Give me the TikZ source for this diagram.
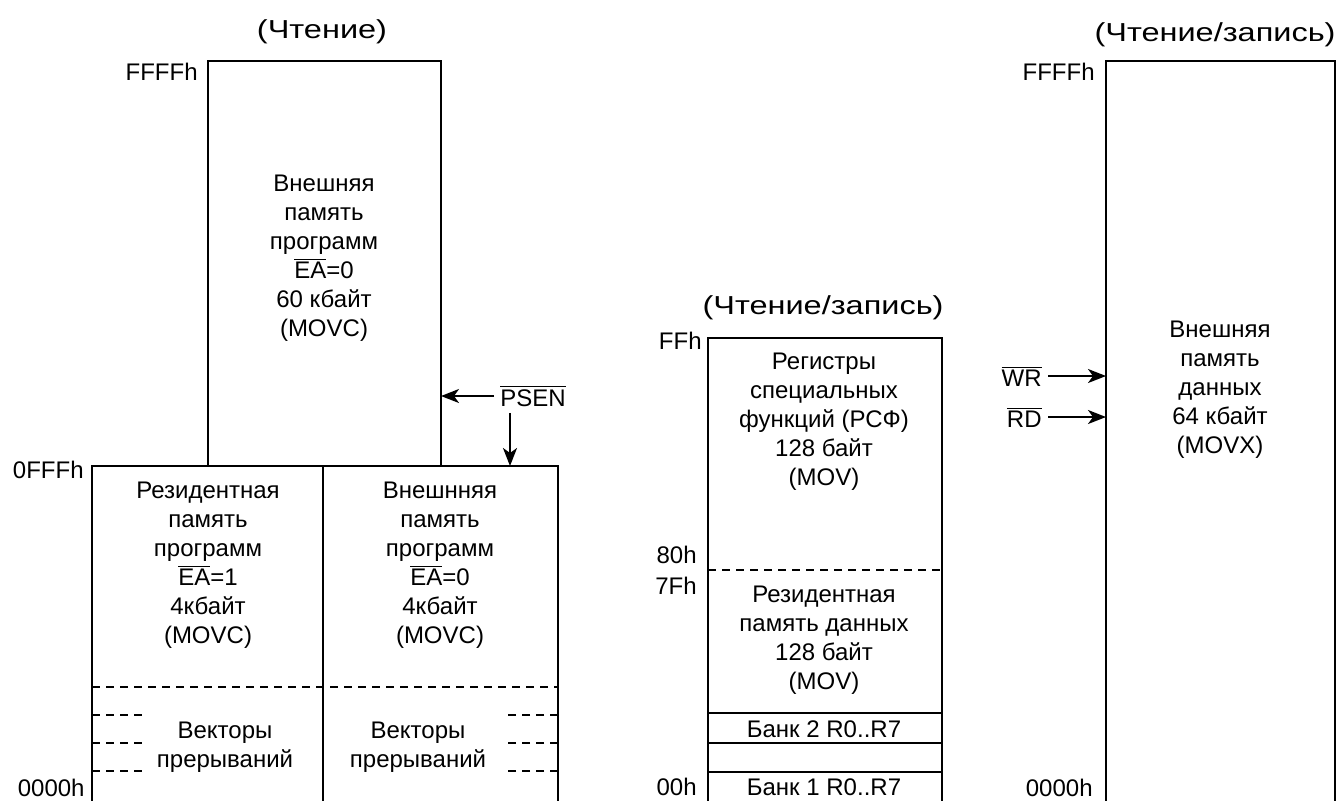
\documentclass[tikz,border=0pt]{standalone}
\usepackage{fontspec}
\setmainfont{Liberation Sans}
\newfontfamily\headfont[FakeStretch=1.25]{Liberation Sans}
\usetikzlibrary{arrows.meta, positioning}

\newcommand{\inv}[1]{$\overline{\mbox{#1}}$}

\begin{document}
\begin{tikzpicture}[
    x=0.5pt, y=-0.5pt,
    font=\fontsize{12}{14.5}\selectfont,
    wall/.style={
      draw=black,
      line width=1pt,
    },
    cut/.style={
      draw=black,
      line width=1pt,
      dash pattern=on 4pt off 3pt,
    },
    sig/.style={
      draw=black,
      line width=1pt,
      -{Stealth[length=9pt, width=7pt, inset=2.5pt]},
    },
    memtext/.style={
      align=center,
      inner sep=0pt,
    },
    addr/.style={
      anchor=east,
      inner sep=0pt,
    },
    head/.style={
      inner sep=0pt,
      font=\headfont\fontsize{13}{14}\selectfont,
    },
    pin/.style={
      inner sep=3pt,
    },
  ]

  \useasboundingbox (0,0) rectangle (1342,800);

  % Program memory
  \coordinate (progTR) at (441,61);
  \coordinate (psenDrop) at (510,466);
  \draw[wall] (208,466) -- (208,61) -- (progTR) -- (441,466);
  \draw[wall] (92,802) -- (92,466) -- (558,466) -- (558,802);
  \draw[wall] (323,466) -- (323,802);
  \draw[cut] (92,687) -- (558,687);
  \foreach \y in {715,743,771} {
    \draw[cut] (92,\y) -- (143,\y);
    \draw[cut] (558,\y) -- (508,\y);
  }

  \node[head] (readP) at (322,32) {(Чтение)};
  \node[addr] (pFFFF) at (198,72) {FFFFh};
  \node[addr] (p0FFF) at (84,470) {0FFFh};
  \node[addr] (p0000) at (85,788) {0000h};

  \node[memtext] (extprog) at (324,258) {Внешняя\\память\\программ\\\inv{EA}=0\\60 кбайт\\(MOVC)};
  \node[memtext] (intprog) at (208,565) {Резидентная\\память\\программ\\\inv{EA}=1\\4кбайт\\(MOVC)};
  \node[memtext] (extprog4) at (440,565) {Внешнняя\\память\\программ\\\inv{EA}=0\\4кбайт\\(MOVC)};
  \node[memtext] (vecL) at (225,747) {Векторы\\прерываний};
  \node[memtext] (vecR) at (418,747) {Векторы\\прерываний};

  \node[pin, anchor=west] (psen) at (494,396) {\inv{PSEN}};
  \draw[sig] (psen.west) -- (psen.west -| progTR);
  \draw[sig] ([xshift=8pt]psen.south west) -- (psenDrop);

  % Internal data memory
  \draw[wall] (708,802) -- (708,338) -- (942,338) -- (942,802);
  \draw[cut] (708,570) -- (942,570);
  \foreach \y in {713,743,772}
    \draw[wall] (708,\y) -- (942,\y);

  \node[head] (rwI) at (823,308) {(Чтение/запись)};
  \node[addr] (iFF) at (702,341) {FFh};
  \node[addr] (i80) at (697,555) {80h};
  \node[addr] (i7F) at (697,586) {7Fh};
  \node[addr] (i00) at (697,787) {00h};

  \node[memtext] (sfr) at (824,422) {Регистры\\специальных\\функций (РСФ)\\128 байт\\(MOV)};
  \node[memtext] (intdata) at (824,640) {Резидентная\\память данных\\128 байт\\(MOV)};
  \node[memtext] (bank2) at (824,729) {Банк 2 R0..R7};
  \node[memtext] (bank1) at (824,787) {Банк 1 R0..R7};

  % External data memory
  \coordinate (dataTL) at (1106,61);
  \draw[wall] (1106,802) -- (dataTL) -- (1335,61) -- (1335,802);

  \node[head] (rwE) at (1215,35) {(Чтение/запись)};
  \node[addr] (eFFFF) at (1095,72) {FFFFh};
  \node[addr] (e0000) at (1093,788) {0000h};

  \node[memtext] (extdata) at (1220,390) {Внешняя\\память\\данных\\64 кбайт\\(MOVX)};

  \node[pin, anchor=east] (wr) at (1048,376) {\inv{WR}};
  \node[pin, anchor=east] (rd) at (1048,417) {\inv{RD}};
  \draw[sig] (wr.east) -- (wr.east -| dataTL);
  \draw[sig] (rd.east) -- (rd.east -| dataTL);

\end{tikzpicture}
\end{document}
